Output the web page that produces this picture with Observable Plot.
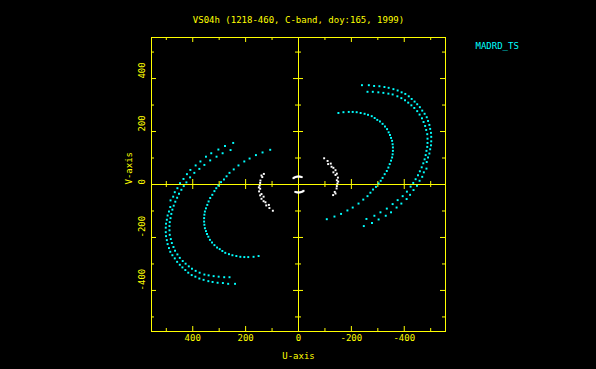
<!DOCTYPE html>
<html><head><meta charset="utf-8">
<script src="https://cdn.jsdelivr.net/npm/d3@7"></script>
<script src="https://cdn.jsdelivr.net/npm/@observablehq/plot@0.6"></script>
<style>html,body{margin:0;padding:0;background:#000;overflow:hidden}</style>
</head><body><div id="chart"></div>
<script>
const title = "VS04h (1218-460, C-band, doy:165, 1999)";
const legendLabel = "MADRD_TS";
const xLabel = "U-axis";
const yLabel = "V-axis";
const tickValues = [400, 200, 0, -200, -400];
const tickLabels = ["400", "200", "0", "-200", "-400"];
const minorTicks = [-500, -400, -300, -200, -100, 0, 100, 200, 300, 400, 500];
const majorTicks = [-400, -200, 0, 200, 400];

// MADRD_TS baselines (one half of the uv plane; conjugates are also plotted)
const outerAU = [-240,-266,-286,-306,-325,-341,-359,-375,-390,-404,-417,-428,-439,-449,-459,-468,-477,-485,-490,-495,-498,-501,-502,-502,-501,-498,-495,-490,-485,-484,-474,-468,-458,-448,-435,-422,-409,-389,-371,-350,-330,-303,-278,-247];
const outerAV = [375,375,372,371,368,365,360,355,348,342,333,323,313,303,292,279,267,254,240,225,210,195,180,163,148,133,117,102,85,60,46,29,14,-5,-21,-39,-55,-72,-87,-105,-118,-132,-145,-157];
const outerBU = [-261,-281,-302,-321,-340,-356,-374,-389,-403,-415,-427,-438,-449,-458,-467,-473,-479,-483,-487,-488,-488,-487,-484,-481,-477,-472,-466,-459,-452,-443,-434,-424,-410,-394,-375,-356,-334,-310,-287,-257];
const outerBV = [350,350,348,346,343,340,333,326,318,309,299,289,277,264,250,236,221,206,190,173,157,142,127,111,95,80,65,50,35,20,6,-8,-27,-44,-59,-74,-91,-105,-118,-130];
const innerU = [-151,-170,-190,-205,-220,-235,-250,-263,-277,-288,-298,-308,-318,-327,-335,-341,-346,-350,-354,-356,-357,-357,-356,-354,-350,-345,-340,-334,-326,-318,-311,-303,-293,-282,-272,-261,-245,-227,-205,-185,-161,-136,-107];
const innerV = [270,273,274,274,273,270,267,263,258,251,244,238,229,219,209,197,187,176,165,152,140,127,114,102,90,77,64,51,39,25,14,4,-9,-19,-31,-44,-57,-72,-87,-98,-111,-121,-131];

// other baselines (white)
const whiteArcU = [-97,-110,-112,-122,-125,-132,-140,-132,-145,-140,-149,-145,-150,-147,-145,-144,-137,-140,-131];
const whiteArcV = [99,89,77,79,67,63,54,46,41,36,26,16,11,4,-6,-15,-28,-34,-40];
const whiteShortU = [19,16,12,8,4,0,-4,-8,-12];
const whiteShortV = [24,26,28,29,30,30,30,29,28];

const withConjugates = (us, vs) => us.flatMap((u, i) => [{u, v: vs[i]}, {u: -u, v: -vs[i]}]);
const cyanPts = [...withConjugates(outerAU, outerAV), ...withConjugates(outerBU, outerBV), ...withConjugates(innerU, innerV)];
const whitePts = [...withConjugates(whiteArcU, whiteArcV), ...withConjugates(whiteShortU, whiteShortV)];

const yellow = "#ffff00";
const cyan = "#00ffff";
const zeroMinor = minorTicks.filter(d => d !== 0 && !majorTicks.includes(d));
const zeroMajor = majorTicks.filter(d => d !== 0);
const frameMinor = minorTicks.filter(d => !majorTicks.includes(d));

const chart = Plot.plot({
  width: 596, height: 369,
  marginLeft: 151, marginRight: 151, marginTop: 37, marginBottom: 38,
  x: {domain: [556, -556], axis: null},
  y: {domain: [-555, 555], axis: null},
  style: {background: "#000", fontFamily: "'DejaVu Sans Mono', monospace", fontSize: "9px"},
  marks: [
    Plot.ruleX([0], {stroke: yellow}),
    Plot.ruleY([0], {stroke: yellow}),
    // frame ticks (inward)
    Plot.tickX(frameMinor, {x: d => d, stroke: yellow, insetTop: 291}),
    Plot.tickX(majorTicks, {x: d => d, stroke: yellow, insetTop: 289}),
    Plot.tickX(frameMinor, {x: d => d, stroke: yellow, insetBottom: 291}),
    Plot.tickX(majorTicks, {x: d => d, stroke: yellow, insetBottom: 289}),
    Plot.tickY(frameMinor, {y: d => d, stroke: yellow, insetRight: 291}),
    Plot.tickY(majorTicks, {y: d => d, stroke: yellow, insetRight: 289}),
    Plot.tickY(frameMinor, {y: d => d, stroke: yellow, insetLeft: 291}),
    Plot.tickY(majorTicks, {y: d => d, stroke: yellow, insetLeft: 289}),
    // ticks across zero axes
    Plot.ruleX(zeroMinor, {x: d => d, y1: 0, y2: 0, insetTop: -3, insetBottom: -3, stroke: yellow}),
    Plot.ruleX(zeroMajor, {x: d => d, y1: 0, y2: 0, insetTop: -5, insetBottom: -5, stroke: yellow}),
    Plot.ruleY(zeroMinor, {y: d => d, x1: 0, x2: 0, insetLeft: -3, insetRight: -3, stroke: yellow}),
    Plot.ruleY(zeroMajor, {y: d => d, x1: 0, x2: 0, insetLeft: -5, insetRight: -5, stroke: yellow}),
    Plot.frame({stroke: yellow}),
    Plot.dot(whitePts, {x: "u", y: "v", r: 1.1, symbol: "square", fill: "white", stroke: "none"}),
    Plot.dot(cyanPts, {x: "u", y: "v", r: 1.1, symbol: "square", fill: cyan, stroke: "none"}),
    Plot.text([title], {frameAnchor: "top", dy: -21, fill: yellow}),
    Plot.text([legendLabel], {frameAnchor: "top-right", dx: 30, dy: 5, textAnchor: "start", fill: cyan}),
    Plot.text(tickValues, {x: d => d, frameAnchor: "bottom", dy: 9, text: (d, i) => tickLabels[i], fill: yellow}),
    Plot.text([xLabel], {frameAnchor: "bottom", dy: 27, fill: yellow}),
    Plot.text(tickValues, {y: d => d, frameAnchor: "left", dx: -9.5, rotate: -90, text: (d, i) => tickLabels[i], fill: yellow}),
    Plot.text([yLabel], {frameAnchor: "left", dx: -22.5, rotate: -90, fill: yellow})
  ]
});
document.getElementById("chart").appendChild(chart);
</script>
</body></html>
